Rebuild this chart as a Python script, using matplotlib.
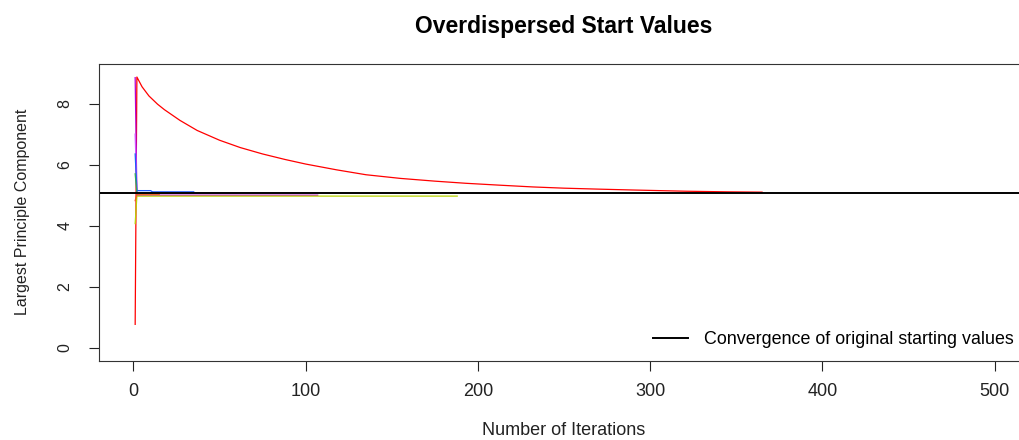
import matplotlib.pyplot as plt
import numpy as np

plt.rcParams['font.family'] = ['Liberation Sans', 'DejaVu Sans']

# chains started from overdispersed values (iteration, largest PC)
red_x = [1, 2, 5, 9, 14, 18, 27, 37, 50, 62, 75, 88, 100, 118, 135, 155, 175,
         193, 212, 232, 250, 269, 290, 321, 345, 365]
red_y = [0.77, 8.87, 8.55, 8.25, 7.98, 7.8, 7.45, 7.12, 6.8, 6.56, 6.35, 6.17,
         6.02, 5.83, 5.67, 5.55, 5.46, 5.39, 5.33, 5.27, 5.23, 5.20, 5.17,
         5.13, 5.11, 5.10]

magenta_x = [1, 2, 107]
magenta_y = [8.85, 5.00, 5.00]

violet_x = [1, 2, 60]
violet_y = [7.0, 5.06, 5.06]

blue_x = [1, 2, 10, 11, 35]
blue_y = [6.35, 5.15, 5.15, 5.11, 5.11]

green_x = [1, 2, 20]
green_y = [5.7, 5.07, 5.07]

olive_x = [1, 2, 188]
olive_y = [4.07, 4.97, 4.97]

orange_x = [1, 2, 15]
orange_y = [4.82, 5.03, 5.03]

converged = 5.06

chains = [
    (red_x, red_y, '#ff0000'),
    (magenta_x, magenta_y, '#b400d2'),
    (violet_x, violet_y, '#cc55ff'),
    (blue_x, blue_y, '#1e5aff'),
    (green_x, green_y, '#2eaa5a'),
    (olive_x, olive_y, '#b8d400'),
    (orange_x, orange_y, '#f06020'),
]

fig = plt.figure(figsize=(10.19, 4.4), dpi=100)
ax = fig.add_axes([99/1019, 1 - 360.7/440, 930/1019, 296.2/440])

for xs, ys, col in chains:
    ax.plot(xs, ys, color=col, linewidth=0.9)

ax.axhline(converged, color='black', linewidth=1.4,
           label='Convergence of original starting values')

ax.set_xlim(-20, 520)
ax.set_ylim(-0.42, 9.28)
ax.set_xticks([0, 100, 200, 300, 400, 500])
ax.set_yticks([0, 2, 4, 6, 8])
ax.tick_params(axis='both', length=7, width=0.8, colors='#222222')
ax.tick_params(axis='x', pad=9, labelsize=13)
ax.tick_params(axis='y', pad=12, labelsize=11.5, labelrotation=90)
for lab in ax.get_yticklabels():
    lab.set_va('center')
for s in ax.spines.values():
    s.set_linewidth(0.8)
    s.set_color('#333333')

ax.legend(loc='center left', bbox_to_anchor=((653 - 99) / 930, (360.7 - 340) / 296.2),
          frameon=False, fontsize=12.9, handlelength=1.94, handletextpad=0.92,
          borderpad=0, borderaxespad=0)

fig.text(564/1019, 1 - 27/440, 'Overdispersed Start Values', ha='center', va='center',
         fontsize=16.5, fontweight='bold')
fig.text(564/1019, 1 - 430/440, 'Number of Iterations', ha='center', va='center',
         fontsize=13, color='#222222')
fig.text(23/1019, 1 - 212/440, 'Largest Principle Component', ha='center', va='center',
         rotation=90, fontsize=11.5, color='#222222')

fig.savefig('out.png', dpi=100)
